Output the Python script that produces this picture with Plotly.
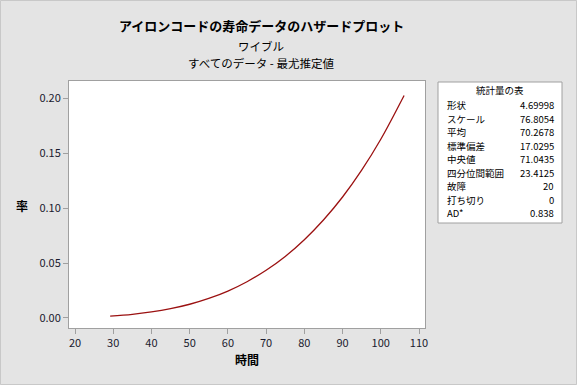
import plotly.graph_objects as go

# Data
time_vals = [29.2, 35, 40, 45, 50, 55, 60, 65, 70, 75, 80, 85, 90, 95, 100, 106.1]
hazard_vals = [0.0017, 0.0033, 0.0055, 0.0085, 0.0125, 0.0178, 0.0245, 0.0330,
               0.0434, 0.0560, 0.0712, 0.0891, 0.1100, 0.1344, 0.1625, 0.2023]
x_ticks = [20, 30, 40, 50, 60, 70, 80, 90, 100, 110]
y_ticks = [0.00, 0.05, 0.10, 0.15, 0.20]
stat_labels = ["形状", "スケール", "平均", "標準偏差", "中央値", "四分位間範囲", "故障", "打ち切り", "AD*"]
stat_values = ["4.69998", "76.8054", "70.2678", "17.0295", "71.0435", "23.4125", "20", "0", "0.838"]

W, H = 577, 385
L, R, T, B = 69, 425, 81, 328
FONT = "Noto Sans CJK JP"

def px(x):
    return (x - L) / (R - L)

def py(y):
    return (B - y) / (B - T)

fig = go.Figure()
fig.add_trace(go.Scatter(x=time_vals, y=hazard_vals, mode="lines",
                         line=dict(color="#9b1111", width=1.3, shape="spline"),
                         hoverinfo="skip", showlegend=False))

ann = []
ann.append(dict(text="<b>アイロンコードの寿命データのハザードプロット</b>", x=px(261), y=py(25),
                font=dict(size=13, color="#000000")))
ann.append(dict(text="ワイブル", x=px(261), y=py(46), font=dict(size=11.5, color="#000000")))
ann.append(dict(text="すべてのデータ - 最尤推定値", x=px(261), y=py(63), font=dict(size=11.5, color="#000000")))
ann.append(dict(text="<b>時間</b>", x=px(247), y=py(359), font=dict(size=12, color="#000000")))
ann.append(dict(text="<b>率</b>", x=px(22), y=py(205), font=dict(size=12, color="#000000")))
ann.append(dict(text="統計量の表", x=px(500), y=py(90), font=dict(size=9.5, color="#000000")))
for i, (lab, val) in enumerate(zip(stat_labels, stat_values)):
    yy = 105 + i * 13.5
    ann.append(dict(text=lab, x=px(445), y=py(yy), xanchor="left", font=dict(size=9.5, color="#000000")))
    ann.append(dict(text=val, x=px(556), y=py(yy), xanchor="right", font=dict(size=9.5, color="#000000")))
for a in ann:
    a.setdefault("xanchor", "center")
    a.update(xref="paper", yref="paper", showarrow=False, yanchor="middle")
    a["font"]["family"] = FONT

shapes = [
    dict(type="rect", xref="paper", yref="paper", x0=px(438), x1=px(562), y0=py(82), y1=py(223),
         line=dict(color="#a0a0a0", width=1), fillcolor="#ffffff", layer="below"),
    dict(type="rect", xref="paper", yref="paper", x0=px(0.5), x1=px(576.5), y0=py(0.5), y1=py(384.5),
         line=dict(color="#c8c8c8", width=1), fillcolor="rgba(0,0,0,0)", layer="below"),
]

fig.update_layout(
    width=W, height=H,
    margin=dict(l=L, r=W - R, t=T, b=H - B),
    paper_bgcolor="#e4e4e4", plot_bgcolor="#ffffff",
    font=dict(family=FONT, size=11, color="#1a1a2e"),
    annotations=ann, shapes=shapes,
    xaxis=dict(range=[18.43, 111.57], tickvals=x_ticks, ticks="outside", ticklen=5,
               tickcolor="#a0a0a0", showgrid=False, zeroline=False, showline=True,
               linecolor="#a0a0a0", mirror=True, tickfont=dict(size=11, color="#1a1a2e")),
    yaxis=dict(range=[-0.0091, 0.2155], tickvals=y_ticks, tickformat=".2f", ticks="outside",
               ticklen=5, tickcolor="#a0a0a0", showgrid=False, zeroline=False, showline=True,
               linecolor="#a0a0a0", mirror=True, tickfont=dict(size=11, color="#1a1a2e")),
)

fig.write_html("out.html", config={"displayModeBar": False},
               post_script="document.body.style.margin='0';document.body.style.overflow='hidden';")
